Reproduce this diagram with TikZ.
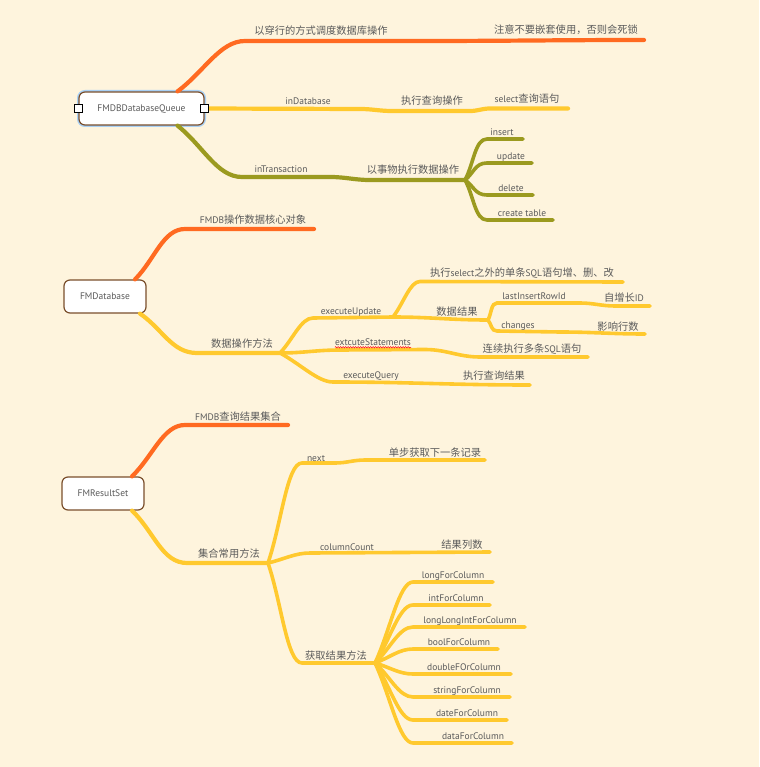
\documentclass[tikz,border=0pt]{standalone}
\usepackage{fontspec}
\setmainfont{PT Sans}
\newfontfamily\cjk[Scale=1.08]{Noto Sans CJK SC}
\usetikzlibrary{calc,decorations.pathmorphing}
\definecolor{Paper}{HTML}{FEF4DD}
\definecolor{Ember}{HTML}{FF6A21}
\definecolor{Honey}{HTML}{FFC92E}
\definecolor{Olive}{HTML}{9B9A1F}
\definecolor{Ink}{HTML}{5A5A5A}
\definecolor{Bark}{HTML}{7A4F2C}
\definecolor{Glow}{HTML}{A8D0F5}

\tikzset{
  topic/.style={draw=Bark, line width=1.2pt, fill=white, rounded corners=6pt,
    text=Ink, minimum height=33pt, inner sep=0pt},
  handle/.style={draw=black, fill=white, line width=0.7pt, minimum size=8pt, inner sep=0pt},
  lbl/.style={anchor=base, text=Ink, inner sep=0pt},
  limb/.style={line width=4.2pt, line cap=round},
  twig/.style={line width=3.6pt, line cap=round},
  arm/.style={to path={.. controls ($(\tikztostart)!.4!(\tikztotarget)$)
    and ($(\tikztotarget)+(-#1,0)$) .. (\tikztotarget)}},
  arm/.default=15,
  squiggle/.style={draw=red, line width=0.5pt,
    decorate, decoration={snake, amplitude=0.7pt, segment length=2.5pt}}
}

\begin{document}
\begin{tikzpicture}[x=1pt, y=-1pt, every node/.style={font=\fontsize{9.5}{11}\selectfont}]
  \fill[Paper] (0,0) rectangle (759,767);
  \useasboundingbox (0,0) rectangle (759,767);

  % FMDBDatabaseQueue
  \node[topic, minimum width=125pt, preaction={draw=Glow, line width=4pt}] (queue) at (141.5,108.5) {FMDBDatabaseQueue};

  \coordinate (qo1) at (245,41);
  \coordinate (qo2) at (420,41);
  \coordinate (qo3) at (644,40);
  \draw[limb, Ember] ([xshift=36pt]queue.north) to[arm=25] (qo1) -- (qo2) to[out=0,in=180] (qo3);
  \node[lbl] (q1) at (321,35) {\cjk 以穿行的方式调度数据库操作};
  \node[lbl] (q2) at (566,34) {\cjk 注意不要嵌套使用，否则会死锁};

  \coordinate (qy1) at (360,109);
  \coordinate (qy2) at (392,111);
  \coordinate (qy3) at (470,111);
  \coordinate (qy4) at (490,108.5);
  \coordinate (qy5) at (568,108.5);
  \draw[limb, Honey] (queue.east) -- (qy1) to[out=0,in=180] (qy2) -- (qy3) to[out=0,in=180] (qy4) -- (qy5);
  \node[lbl] (q3) at (308,105) {inDatabase};
  \node[lbl] (q4) at (432,105) {\cjk 执行查询操作};
  \node[lbl] (q5) at (527,103) {select{\cjk 查询语句}};

  \coordinate (qv1) at (242,177);
  \coordinate (qv2) at (330,177);
  \coordinate (qv3) at (370,180);
  \coordinate (qv4) at (465,180);
  \draw[limb, Olive] ([xshift=36pt]queue.south) to[arm=25] (qv1) -- (qv2) to[out=0,in=180] (qv3) -- (qv4);
  \node[lbl] (q6) at (281,173) {inTransaction};
  \node[lbl] (q7) at (413,174) {\cjk 以事物执行数据操作};
  \foreach \n/\y/\e/\c/\t in {ins/139/523/502/insert, upd/163/532/511/update,
      del/195/533/511/delete, cre/220/553/522/create table} {
    \coordinate (\n a) at (487,\y);
    \coordinate (\n b) at (\e,\y);
    \draw[twig, Olive] (qv4) to[arm=12] (\n a) -- (\n b);
    \node[lbl] (\n) at (\c,\y-3.5) {\t};
  }

  \node[handle] (hl) at (queue.west) {};
  \node[handle] (hr) at (queue.east) {};

  % FMDatabase
  \node[topic, minimum width=82pt] (fmdb) at (105,296.5) {FMDatabase};

  \coordinate (do1) at (185,229);
  \coordinate (do2) at (314,229);
  \draw[limb, Ember] ([xshift=30pt]fmdb.north) to[arm=22] (do1) -- (do2);
  \node[lbl] (d1) at (253,223) {FMDB{\cjk 操作数据核心对象}};

  \coordinate (dy1) at (197,353);
  \coordinate (dy2) at (280,353);
  \draw[limb, Honey] ([xshift=35pt]fmdb.south) to[arm=25] (dy1) -- (dy2);
  \node[lbl] (d2) at (242,347) {\cjk 数据操作方法};

  \coordinate (du1) at (313,318);
  \coordinate (du2) at (393,317);
  \coordinate (du3) at (420,281.5);
  \coordinate (du4) at (623,282);
  \coordinate (dr) at (488,320);
  \draw[twig, Honey] (dy2) to[arm=12] (du1) -- (du2) to[arm=10] (du3) -- (du4);
  \draw[twig, Honey] (du2) to[out=0,in=180] (dr);
  \node[lbl] (d3) at (351,314) {executeUpdate};
  \node[lbl] (d4) at (522,276) {{\cjk 执行}select{\cjk 之外的单条}SQL{\cjk 语句增、删、改}};
  \node[lbl] (d5) at (457,315) {\cjk 数据结果};

  \coordinate (dl1) at (497,303);
  \coordinate (dl2) at (580,303);
  \coordinate (dl3) at (615,306);
  \coordinate (dl4) at (650,306);
  \draw[twig, Honey] (dr) to[arm=6] (dl1) -- (dl2) to[out=0,in=180] (dl3) -- (dl4);
  \node[lbl] (d6) at (534,299) {lastInsertRowId};
  \node[lbl] (d7) at (624,301.5) {{\cjk 自增长}ID};

  \coordinate (dc1) at (497,331);
  \coordinate (dc2) at (560,332);
  \coordinate (dc3) at (645,334);
  \draw[twig, Honey] (dr) to[arm=6] (dc1) -- (dc2) to[out=0,in=180] (dc3);
  \node[lbl] (d8) at (518,328) {changes};
  \node[lbl] (d9) at (618,330) {\cjk 影响行数};

  \coordinate (ds1) at (340,350);
  \coordinate (ds2) at (425,349.5);
  \coordinate (ds3) at (480,357);
  \coordinate (ds4) at (588,357);
  \draw[twig, Honey] (dy2) to[out=0,in=180] (ds1) -- (ds2) to[out=0,in=180] (ds3) -- (ds4);
  \node[lbl] (d10) at (373,345.5) {extcuteStatements};
  \draw[squiggle] ([yshift=-1.8pt]d10.base west) -- ([yshift=-1.8pt]d10.base east);
  \node[lbl] (d11) at (532,352) {{\cjk 连续执行多条}SQL{\cjk 语句}};

  \coordinate (dq1) at (333,382);
  \coordinate (dq2) at (530,385);
  \draw[twig, Honey] (dy2) to[arm=15] (dq1) to[out=0,in=180] (dq2);
  \node[lbl] (d12) at (371,378) {executeQuery};
  \node[lbl] (d13) at (494,379.5) {\cjk 执行查询结果};

  % FMResultSet
  \node[topic, minimum width=82pt] (rset) at (103,493.5) {FMResultSet};

  \coordinate (ro1) at (185,425);
  \coordinate (ro2) at (288,425);
  \draw[limb, Ember] ([xshift=29pt]rset.north) to[arm=22] (ro1) -- (ro2);
  \node[lbl] (r1) at (238,420) {FMDB{\cjk 查询结果集合}};

  \coordinate (ry1) at (187,563);
  \coordinate (ry2) at (268,563);
  \draw[limb, Honey] ([xshift=29pt]rset.south) to[arm=25] (ry1) -- (ry2);
  \node[lbl] (r2) at (229,557.5) {\cjk 集合常用方法};

  \coordinate (rn1) at (302,463);
  \coordinate (rn2) at (335,463);
  \coordinate (rn3) at (365,460);
  \coordinate (rn4) at (485,460);
  \draw[twig, Honey] (ry2) to[arm=15] (rn1) -- (rn2) to[out=0,in=180] (rn3) -- (rn4);
  \node[lbl] (r3) at (316,461) {next};
  \node[lbl] (r4) at (435,456) {\cjk 单步获取下一条记录};

  \coordinate (rc1) at (310,553);
  \coordinate (rc2) at (490,552);
  \draw[twig, Honey] (ry2) to[arm=15] (rc1) -- (rc2);
  \node[lbl] (r5) at (347,550) {columnCount};
  \node[lbl] (r6) at (462,548) {\cjk 结果列数};

  \coordinate (rg1) at (302,663);
  \coordinate (rg2) at (375,663);
  \draw[twig, Honey] (ry2) to[arm=15] (rg1) -- (rg2);
  \node[lbl] (r7) at (336,659) {\cjk 获取结果方法};
  \foreach \n/\y/\e/\c/\t in {c1/582/493/453/longForColumn, c2/605/490/456/intForColumn,
      c3/627/525/470/longLongIntForColumn, c4/649/498/459/boolForColumn,
      c5/674/511/464/doubleFOrColumn, c6/697/510/467/stringForColumn,
      c7/720/507/467/dateForColumn, c8/743/512/473/dataForColumn} {
    \coordinate (\n a) at (413,\y);
    \coordinate (\n b) at (\e,\y);
    \draw[twig, Honey] (rg2) to[arm=14] (\n a) -- (\n b);
    \node[lbl] (\n) at (\c,\y-4) {\t};
  }
\end{tikzpicture}
\end{document}
